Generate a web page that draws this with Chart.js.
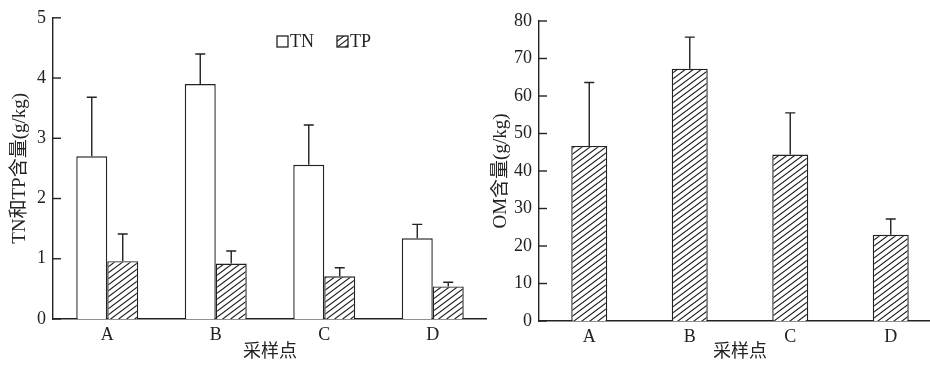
<!DOCTYPE html>
<html>
<head>
<meta charset="utf-8">
<script src="https://cdn.jsdelivr.net/npm/chart.js@4/dist/chart.umd.min.js"></script>
<style>
  html, body { margin: 0; padding: 0; background: #fff; }
  body { width: 930px; height: 367px; overflow: hidden; position: relative; }
  #left { position: absolute; left: 0; top: 0; }
  #right { position: absolute; left: 490px; top: 0; }
</style>
</head>
<body>
<canvas id="left" width="487" height="367"></canvas>
<canvas id="right" width="451" height="367"></canvas>
<script>
// 采样点
var categories = ['A', 'B', 'C', 'D'];

// TN / TP 含量 (g/kg), 均值和上误差
var tnMean = [2.70, 3.90, 2.56, 1.34];
var tnErr = [0.98, 0.50, 0.66, 0.23];
var tpMean = [0.96, 0.92, 0.71, 0.54];
var tpErr = [0.45, 0.21, 0.14, 0.07];

// OM 含量 (g/kg)
var omMean = [46.7, 67.3, 44.4, 23.0];
var omErr = [16.9, 8.4, 11.1, 4.2];

var ink = '#222';
var serif = '"Liberation Serif", "Noto Sans CJK SC", serif';

Chart.defaults.font.family = serif;
Chart.defaults.font.size = 18;
Chart.defaults.color = ink;

function hatch() {
    var w = 8, h = 6;
    var c = document.createElement('canvas');
    c.width = w; c.height = h;
    var g = c.getContext('2d');
    g.fillStyle = '#fff';
    g.fillRect(0, 0, w, h);
    g.strokeStyle = ink;
    g.lineWidth = 1.1;
    g.beginPath();
    g.moveTo(-w, 2 * h); g.lineTo(2 * w, -h);
    g.moveTo(-2 * w, 2 * h); g.lineTo(w, -h);
    g.moveTo(0, 2 * h); g.lineTo(3 * w, -h);
    g.stroke();
    return g.createPattern(c, 'repeat');
}

// 误差线 (只画上半部分)
var errorBars = {
    id: 'errorBars',
    afterDatasetsDraw: function(chart, args, opts) {
        var ctx = chart.ctx;
        var y = chart.scales.y;
        ctx.save();
        ctx.strokeStyle = ink;
        ctx.lineWidth = 1.4;
        chart.data.datasets.forEach(function(ds, i) {
            var meta = chart.getDatasetMeta(i);
            meta.data.forEach(function(bar, j) {
                var top = y.getPixelForValue(ds.data[j] + ds.err[j]);
                ctx.beginPath();
                ctx.moveTo(bar.x, bar.y);
                ctx.lineTo(bar.x, top);
                ctx.moveTo(bar.x - 5, top);
                ctx.lineTo(bar.x + 5, top);
                ctx.stroke();
            });
        });
        ctx.restore();
    }
};

// 刻度线朝内
var innerTicks = {
    id: 'innerTicks',
    afterDraw: function(chart) {
        var ctx = chart.ctx;
        var y = chart.scales.y;
        var left = chart.chartArea.left;
        ctx.save();
        ctx.strokeStyle = ink;
        ctx.lineWidth = 1.4;
        y.ticks.forEach(function(t) {
            var py = y.getPixelForValue(t.value);
            ctx.beginPath();
            ctx.moveTo(left, py);
            ctx.lineTo(left + 8, py);
            ctx.stroke();
        });
        ctx.restore();
    }
};

var legendBox = {
    id: 'legendBox',
    afterDraw: function(chart) {
        var ctx = chart.ctx;
        var x0 = chart.chartArea.left + 224;
        ctx.save();
        ctx.lineWidth = 1.3;
        ctx.strokeStyle = ink;
        ctx.font = '18px ' + serif;
        ctx.fillStyle = ink;
        ctx.textBaseline = 'middle';
        chart.data.datasets.forEach(function(ds, i) {
            var bx = x0 + i * 60;
            ctx.fillStyle = ds.backgroundColor;
            ctx.fillRect(bx, 36, 11, 11);
            ctx.strokeRect(bx, 36, 11, 11);
            ctx.fillStyle = ink;
            ctx.fillText(ds.label, bx + 13, 42);
        });
        ctx.restore();
    }
};

function axes(yMin, yMax, step, yTitle, xHeight, yWidth, titlePad) {
    return {
        x: {
            grid: { display: false, drawTicks: false },
            border: { color: ink, width: 1.4 },
            ticks: { padding: 5 },
            title: { display: true, text: '采样点', font: { size: 18 }, padding: { top: 0, bottom: 4 } },
            afterFit: function(s) { s.height = xHeight; }
        },
        y: {
            min: yMin,
            max: yMax,
            grid: { display: false, drawTicks: false },
            border: { color: ink, width: 1.4 },
            ticks: { stepSize: step, padding: 7 },
            title: { display: true, text: yTitle, font: { size: 19 }, padding: { top: titlePad, bottom: 0 } },
            afterFit: function(s) { s.width = yWidth; }
        }
    };
}

var pattern = hatch();

new Chart(document.getElementById('left').getContext('2d'), {
    type: 'bar',
    data: {
        labels: categories,
        datasets: [{
            label: 'TN',
            data: tnMean,
            err: tnErr,
            backgroundColor: '#fff',
            borderColor: ink,
            borderWidth: 1.4,
            categoryPercentage: 0.571,
            barPercentage: 1
        }, {
            label: 'TP',
            data: tpMean,
            err: tpErr,
            backgroundColor: pattern,
            borderColor: ink,
            borderWidth: 1.4,
            categoryPercentage: 0.571,
            barPercentage: 1
        }]
    },
    options: {
        responsive: false,
        animation: false,
        layout: { padding: { top: 15, left: 0, right: 0, bottom: 0 } },
        plugins: { legend: { display: false }, tooltip: { enabled: false } },
        scales: axes(0, 5, 1, 'TN和TP含量(g/kg)', 48, 53, 9)
    },
    plugins: [errorBars, innerTicks, legendBox]
});

new Chart(document.getElementById('right').getContext('2d'), {
    type: 'bar',
    data: {
        labels: categories,
        datasets: [{
            label: 'OM',
            data: omMean,
            err: omErr,
            backgroundColor: pattern,
            borderColor: ink,
            borderWidth: 1.4,
            categoryPercentage: 0.358,
            barPercentage: 1
        }]
    },
    options: {
        responsive: false,
        animation: false,
        layout: { padding: { top: 21, left: 0, right: 0, bottom: 0 } },
        plugins: { legend: { display: false }, tooltip: { enabled: false } },
        scales: axes(0, 80, 10, 'OM含量(g/kg)', 46, 49, 0)
    },
    plugins: [errorBars, innerTicks]
});
</script>
</body>
</html>
